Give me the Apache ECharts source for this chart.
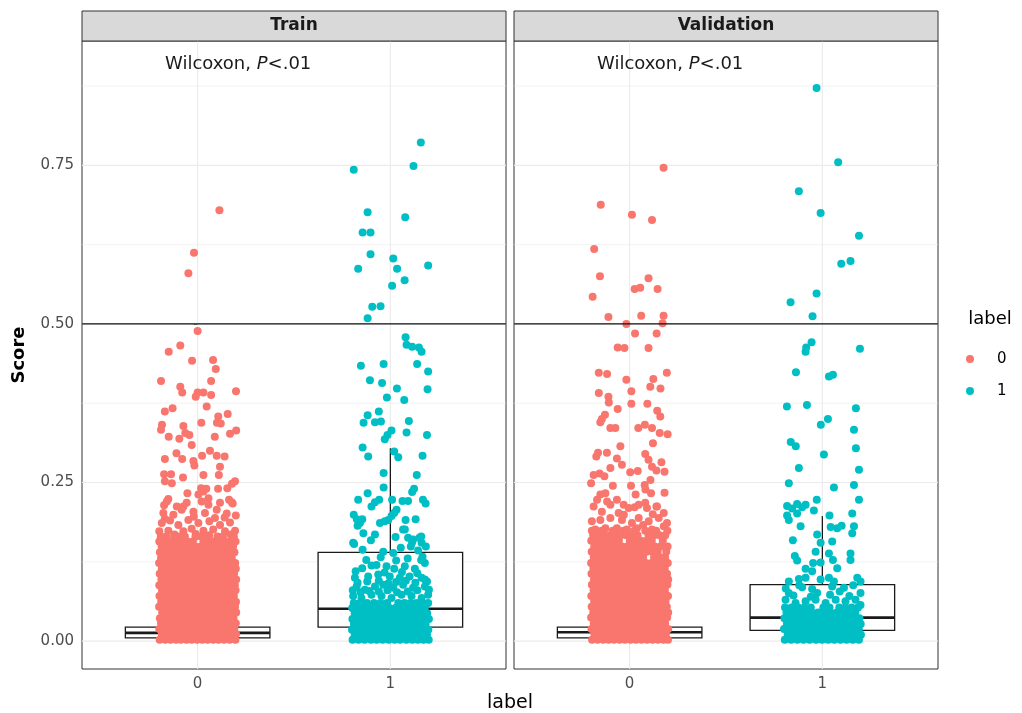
<!DOCTYPE html>
<html><head><meta charset="utf-8">
<script src="https://cdn.jsdelivr.net/npm/echarts@6/dist/echarts.min.js"></script>
<style>html,body{margin:0;padding:0;background:#fff}#c{width:1022px;height:713px}</style>
</head><body><div id="c"></div>
<script>
// ---------------- data ----------------
const panels = ['Train', 'Validation'];
const groups = ['0', '1'];
const groupColors = ['#F8766D', '#00BFC4'];
const yTicks = [0, 0.25, 0.5, 0.75];
const yTickLabels = ['0.00', '0.25', '0.50', '0.75'];
const yMinor = [0.125, 0.375, 0.625, 0.875];
const xTicks = [0, 1];
const xTickLabels = ['0', '1'];
const cutoff = 0.5;
const annPrefix = 'Wilcoxon, ';
const annStat = 'P';
const annSuffix = '<.01';
const yTitle = 'Score';
const xTitle = 'label';
const legendTitle = 'label';
// boxes: [group x, lower whisker, q1, median, q3, upper whisker]
const trainBoxes = [[0, 0, 0.005, 0.013, 0.022, 0.046], [1, 0, 0.022, 0.051, 0.140, 0.304]];
const validBoxes = [[0, 0, 0.005, 0.014, 0.022, 0.047], [1, 0, 0.017, 0.037, 0.089, 0.197]];

// points: [jitter offset from group position, score]
const train0Sparse = [[0.113,0.679],[-0.019,0.612],[-0.048,0.580],[0.0,0.489],[-0.09,0.466],[-0.15,0.456],[-0.029,0.442],[0.08,0.443],[0.094,0.429],
[-0.19,0.410],[0.07,0.410],[0.199,0.394],[-0.09,0.401],[-0.08,0.392],[0.0,0.392],[0.03,0.392],[0.07,0.388],[-0.01,0.385],
[-0.17,0.362],[-0.13,0.367],[0.047,0.370],[0.156,0.358],[0.107,0.354],[-0.185,0.341],[-0.074,0.339],[0.019,0.344],[0.10,0.344],[0.12,0.343],
[-0.19,0.333],[-0.064,0.328],[-0.043,0.325],[0.2,0.332],[0.168,0.327],[-0.15,0.322],[-0.095,0.319],[0.089,0.322],[-0.031,0.309],
[-0.11,0.296],[0.064,0.300],[0.023,0.292],[0.099,0.292],[0.14,0.291],[-0.17,0.287],[-0.08,0.287],[-0.022,0.284],[-0.017,0.277],[0.116,0.275],
[0.11,0.262],[-0.174,0.263],[-0.138,0.263],[0.03,0.262],[-0.076,0.258],[-0.17,0.252],[-0.134,0.249],[0.178,0.248],[0.194,0.252],
[0.018,0.241],[0.045,0.240],[0.106,0.240],[0.154,0.241],[-0.053,0.233],[-0.152,0.224],[0.163,0.223],[0.182,0.217],[-0.174,0.214],
[0.03,0.236],[0.004,0.231],[0.056,0.225],[-0.074,0.212],
[-0.16,0.220],[-0.108,0.212],[-0.057,0.218],[0.021,0.220],[0.056,0.215],[0.116,0.218],[0.177,0.219],[-0.178,0.202],[-0.126,0.199],[-0.083,0.207],
[-0.022,0.204],[0.038,0.202],[0.099,0.207],[0.151,0.201],[0.198,0.198],[-0.186,0.186],[-0.143,0.190],[-0.1,0.183],[-0.048,0.191],[0.004,0.186],
[0.061,0.189],[0.116,0.183],[0.168,0.187],[-0.199,0.173],[-0.152,0.174],[-0.074,0.173],[-0.031,0.177],[0.03,0.174],[0.081,0.176],[0.142,0.173],
[0.194,0.174],[-0.12,0.168],[-0.01,0.169],[0.06,0.167],[0.17,0.168],[-0.17,0.193],[0.14,0.195],[-0.02,0.196],[0.09,0.194]];
const train0Dense = [
[0.002,[-0.197,-0.168,-0.141,-0.112,-0.087,-0.058,-0.031,-0.003,0.024,0.052,0.081,0.108,0.137,0.166,0.196]],
[0.011,[-0.186,-0.155,-0.127,-0.099,-0.072,-0.044,-0.017,0.011,0.039,0.067,0.095,0.122,0.151,0.18,0.199]],
[0.019,[-0.199,-0.172,-0.146,-0.115,-0.09,-0.061,-0.035,-0.006,0.021,0.049,0.078,0.104,0.133,0.161,0.19]],
[0.028,[-0.19,-0.16,-0.133,-0.104,-0.077,-0.05,-0.02,0.007,0.034,0.063,0.09,0.118,0.146,0.174,0.198]],
[0.036,[-0.196,-0.175,-0.149,-0.121,-0.093,-0.066,-0.038,-0.01,0.018,0.045,0.074,0.101,0.128,0.157,0.186]],
[0.045,[-0.184,-0.157,-0.128,-0.101,-0.074,-0.046,-0.016,0.013,0.041,0.069,0.096,0.125,0.153,0.181,0.2]],
[0.054,[-0.2,-0.171,-0.143,-0.114,-0.086,-0.06,-0.032,-0.004,0.026,0.053,0.082,0.11,0.139,0.167,0.194]],
[0.062,[-0.189,-0.161,-0.135,-0.107,-0.079,-0.051,-0.023,0.005,0.033,0.061,0.089,0.116,0.144,0.172,0.199]],
[0.071,[-0.198,-0.176,-0.148,-0.12,-0.092,-0.065,-0.037,-0.009,0.019,0.047,0.075,0.103,0.131,0.159,0.188]],
[0.080,[-0.185,-0.158,-0.13,-0.102,-0.073,-0.045,-0.018,0.012,0.04,0.068,0.097,0.124,0.152,0.179,0.197]],
[0.088,[-0.199,-0.17,-0.142,-0.113,-0.085,-0.057,-0.029,-0.002,0.027,0.055,0.083,0.111,0.138,0.166,0.193]],
[0.097,[-0.188,-0.16,-0.132,-0.105,-0.078,-0.049,-0.022,0.006,0.034,0.062,0.091,0.119,0.146,0.175,0.2]],
[0.106,[-0.197,-0.174,-0.147,-0.118,-0.091,-0.063,-0.036,-0.008,0.02,0.048,0.076,0.104,0.132,0.161,0.189]],
[0.114,[-0.186,-0.156,-0.129,-0.1,-0.071,-0.043,-0.015,0.014,0.042,0.07,0.098,0.126,0.154,0.182,0.198]],
[0.123,[-0.2,-0.169,-0.14,-0.111,-0.083,-0.055,-0.027,0.001,0.029,0.057,0.085,0.113,0.14,0.168,0.195]],
[0.131,[-0.19,-0.162,-0.134,-0.106,-0.08,-0.052,-0.024,0.004,0.036,0.064,0.093,0.121,0.149,0.177]],
[0.140,[-0.196,-0.173,-0.145,-0.117,-0.089,-0.061,-0.033,-0.005,0.023,0.051,0.079,0.107,0.135,0.163,0.191]],
[0.149,[-0.187,-0.158,-0.126,-0.098,-0.07,-0.041,-0.013,0.016,0.044,0.072,0.1,0.128,0.156,0.184]],
[0.157,[-0.199,-0.167,-0.139,-0.109,-0.082,-0.053,-0.025,0.03,0.059,0.087,0.115,0.143,0.171,0.197]],
[0.165,[-0.191,-0.163,-0.122,-0.094,-0.066,-0.011,0.018,0.046,0.103,0.131,0.188]]];

const train1Sparse = [[0.158,0.786],[-0.19,0.743],[0.12,0.749],[-0.118,0.676],[0.077,0.668],[-0.144,0.644],[-0.103,0.644],[-0.103,0.610],[0.015,0.603],
[-0.167,0.587],[0.035,0.587],[0.196,0.592],[0.074,0.569],[0.009,0.560],[-0.094,0.527],[-0.051,0.528],[-0.118,0.509],
[0.079,0.479],[0.084,0.467],[0.113,0.464],[0.148,0.463],[0.162,0.456],
[-0.153,0.434],[-0.035,0.437],[0.139,0.437],[0.196,0.425],[-0.106,0.411],[-0.043,0.407],[0.034,0.398],[0.193,0.397],[-0.018,0.384],[0.072,0.380],
[-0.06,0.362],[-0.118,0.356],[-0.139,0.344],[-0.08,0.345],[-0.049,0.346],[0.096,0.347],[0.084,0.329],[0.006,0.332],[0.19,0.325],[-0.015,0.325],[-0.029,0.318],
[-0.144,0.305],[-0.115,0.291],[0.02,0.299],[0.041,0.290],[0.167,0.292],[-0.035,0.265],[0.137,0.262],[-0.035,0.242],[-0.118,0.233],[0.123,0.240],[0.113,0.235],
[-0.167,0.223],[-0.058,0.223],[-0.08,0.219],[-0.098,0.212],[0.009,0.223],[0.063,0.221],[0.092,0.221],[0.169,0.223],[0.183,0.217],[0.032,0.207],[0.02,0.202],
[-0.19,0.199],[-0.174,0.192],[-0.158,0.186],[-0.17,0.182],[-0.146,0.192],[-0.054,0.186],[-0.029,0.189],[-0.011,0.191],[0.006,0.197],[0.079,0.191],[0.131,0.192],[0.075,0.176],
[-0.08,0.168],[-0.101,0.159],[0.027,0.164],[-0.188,0.153],[-0.144,0.144],[0.092,0.163],[0.113,0.156],[0.151,0.163],[0.162,0.155],[0.184,0.149],[0.106,0.149],[0.054,0.147],
[-0.037,0.141],[0.015,0.139],[0.144,0.143],[0.167,0.133],[-0.146,0.115],[-0.098,0.119],[-0.072,0.120],[-0.02,0.118],[0.02,0.114],[0.075,0.118],[0.127,0.114],
[-0.193,0.155],[-0.14,0.17],[0.066,0.176],[0.118,0.16],[0.16,0.165],[0.16,0.128],[0.179,0.123],[0.179,0.097],
[-0.184,0.1],[-0.115,0.102],[-0.063,0.105],[-0.003,0.102],[0.049,0.1],[0.1,0.102],[0.162,0.1],[-0.175,0.086],[-0.132,0.081],[-0.08,0.086],[-0.037,0.089],
[0.015,0.084],[0.066,0.089],[0.118,0.084],[0.179,0.086],[-0.193,0.071],[-0.15,0.068],[-0.098,0.073],[-0.046,0.071],[0.006,0.068],[0.058,0.073],[0.11,0.071],[0.162,0.068],[0.196,0.073],
[-0.17,0.092],[-0.12,0.094],[-0.06,0.095],[-0.01,0.091],[0.03,0.093],[0.08,0.095],[0.13,0.092],[0.19,0.094],[-0.195,0.08],[-0.155,0.077],[-0.11,0.079],
[-0.06,0.078],[-0.015,0.08],[0.035,0.077],[0.09,0.078],[0.14,0.08],[0.2,0.081],[-0.18,0.11],[-0.03,0.108],[0.06,0.109],[0.14,0.107],[-0.125,0.128],
[-0.05,0.132],[0.03,0.127],[0.09,0.13]];
const train1Dense = [
[0.002,[-0.196,-0.165,-0.134,-0.1,-0.071,-0.04,-0.009,0.022,0.05,0.083,0.114,0.143,0.172,0.199]],
[0.010,[-0.185,-0.151,-0.119,-0.088,-0.055,-0.026,0.008,0.037,0.068,0.099,0.128,0.158,0.19]],
[0.018,[-0.199,-0.17,-0.138,-0.107,-0.077,-0.047,-0.015,0.016,0.045,0.076,0.107,0.137,0.167,0.197]],
[0.027,[-0.189,-0.155,-0.124,-0.092,-0.062,-0.031,0.001,0.03,0.061,0.091,0.121,0.152,0.183]],
[0.035,[-0.197,-0.166,-0.136,-0.104,-0.075,-0.043,-0.012,0.019,0.049,0.08,0.11,0.141,0.171,0.2]],
[0.044,[-0.185,-0.149,-0.118,-0.087,-0.057,-0.024,0.007,0.038,0.068,0.099,0.129,0.16,0.191]],
[0.052,[-0.198,-0.168,-0.139,-0.106,-0.07,-0.038,-0.005,0.026,0.057,0.089,0.118,0.148,0.178]],
[0.060,[-0.19,-0.157,-0.121,-0.085,-0.051,-0.017,0.041,0.073,0.104,0.135,0.166,0.196]]];

const valid0Sparse = [[0.176,0.746],[-0.15,0.688],[0.012,0.672],[0.116,0.664],[-0.184,0.618],[-0.154,0.575],[0.098,0.572],[0.026,0.555],[0.055,0.557],[0.145,0.555],
[-0.192,0.543],[-0.11,0.511],[0.06,0.513],[0.176,0.513],[-0.017,0.500],[0.171,0.501],[0.028,0.485],[0.14,0.485],[-0.062,0.463],[-0.027,0.462],[0.098,0.462],
[-0.16,0.423],[-0.117,0.421],[0.193,0.423],[-0.017,0.412],[0.123,0.413],[0.107,0.401],[0.16,0.398],[0.009,0.394],[-0.16,0.391],
[-0.11,0.385],[-0.108,0.376],[0.009,0.374],[0.092,0.374],[-0.062,0.366],[0.143,0.363],[0.159,0.354],[-0.128,0.357],[-0.144,0.350],[-0.152,0.345],
[-0.10,0.336],[-0.074,0.336],[0.045,0.336],[0.079,0.341],[0.116,0.336],[0.156,0.328],[0.197,0.326],[0.121,0.312],[-0.048,0.307],[-0.164,0.297],
[-0.173,0.291],[-0.118,0.297],[-0.066,0.288],[-0.04,0.278],[0.081,0.295],[0.098,0.286],[0.116,0.275],[0.139,0.269],[0.181,0.267],[0.165,0.282],
[-0.1,0.273],[0.003,0.266],[0.042,0.268],[-0.187,0.262],[-0.156,0.264],[-0.131,0.26],[-0.2,0.249],[0.108,0.254],[0.078,0.246],[0.082,0.239],
[-0.087,0.245],[0.007,0.245],[0.181,0.234],[0.111,0.233],[0.031,0.231],[0.139,0.212],[-0.152,0.231],[-0.126,0.233],[-0.169,0.223],[-0.117,0.22],
[-0.066,0.223],[-0.031,0.215],[0.026,0.211],[0.081,0.218],
[-0.187,0.212],[-0.144,0.204],[-0.1,0.215],[-0.057,0.202],[-0.005,0.21],[0.047,0.215],[0.09,0.21],[0.142,0.212],[0.177,0.202],[-0.196,0.189],
[-0.152,0.191],[-0.1,0.194],[-0.04,0.191],[0.012,0.186],[0.047,0.194],[0.099,0.189],[0.151,0.194],[0.194,0.186],[-0.178,0.176],[-0.126,0.178],
[-0.066,0.178],[-0.014,0.176],[0.038,0.178],[0.116,0.176],[0.177,0.181],[0.07,0.183],[-0.03,0.199],[0.12,0.2]];
const valid0Dense = [
[0.002,[-0.195,-0.166,-0.137,-0.109,-0.081,-0.052,-0.024,0.005,0.033,0.062,0.09,0.119,0.147,0.176,0.199]],
[0.011,[-0.183,-0.154,-0.125,-0.097,-0.068,-0.04,-0.011,0.018,0.046,0.075,0.103,0.132,0.16,0.188]],
[0.019,[-0.198,-0.17,-0.141,-0.113,-0.084,-0.056,-0.027,0.001,0.03,0.058,0.087,0.115,0.144,0.172,0.2]],
[0.028,[-0.186,-0.158,-0.129,-0.101,-0.072,-0.044,-0.015,0.013,0.042,0.07,0.099,0.127,0.156,0.184]],
[0.037,[-0.2,-0.173,-0.145,-0.116,-0.088,-0.059,-0.031,-0.002,0.026,0.055,0.083,0.112,0.14,0.169,0.195]],
[0.045,[-0.189,-0.161,-0.132,-0.104,-0.075,-0.047,-0.018,0.01,0.039,0.067,0.096,0.124,0.153,0.181,0.2]],
[0.054,[-0.197,-0.168,-0.14,-0.111,-0.083,-0.054,-0.026,0.003,0.031,0.06,0.088,0.117,0.145,0.174,0.193]],
[0.063,[-0.184,-0.156,-0.127,-0.099,-0.07,-0.042,-0.013,0.015,0.044,0.072,0.101,0.129,0.158,0.186]],
[0.071,[-0.199,-0.171,-0.142,-0.114,-0.085,-0.057,-0.028,0,0.029,0.057,0.086,0.114,0.143,0.171,0.199]],
[0.080,[-0.187,-0.159,-0.13,-0.102,-0.073,-0.045,-0.016,0.012,0.041,0.069,0.098,0.126,0.155,0.183]],
[0.089,[-0.196,-0.174,-0.146,-0.117,-0.089,-0.06,-0.032,-0.003,0.025,0.054,0.082,0.111,0.139,0.168,0.196]],
[0.097,[-0.185,-0.157,-0.128,-0.1,-0.071,-0.043,-0.014,0.014,0.043,0.071,0.1,0.128,0.157,0.185,0.2]],
[0.106,[-0.198,-0.169,-0.141,-0.112,-0.084,-0.055,-0.027,0.002,0.03,0.059,0.087,0.116,0.144,0.173,0.194]],
[0.115,[-0.188,-0.16,-0.131,-0.103,-0.074,-0.046,-0.017,0.011,0.04,0.068,0.097,0.125,0.154,0.182]],
[0.123,[-0.2,-0.172,-0.143,-0.115,-0.086,-0.058,-0.029,-0.001,0.028,0.056,0.085,0.113,0.142,0.17,0.198]],
[0.132,[-0.186,-0.158,-0.129,-0.101,-0.072,-0.044,-0.015,0.013,0.042,0.07,0.127,0.156,0.184]],
[0.141,[-0.197,-0.168,-0.14,-0.111,-0.083,-0.054,-0.026,0.003,0.031,0.06,0.088,0.117,0.145,0.19]],
[0.149,[-0.184,-0.155,-0.127,-0.098,-0.07,-0.041,-0.013,0.016,0.044,0.073,0.101,0.13,0.16,0.197]],
[0.158,[-0.199,-0.17,-0.142,-0.113,-0.085,-0.056,0.001,0.03,0.058,0.087,0.115,0.172]],
[0.167,[-0.189,-0.16,-0.131,-0.103,-0.074,-0.046,-0.017,0.012,0.041,0.098,0.126,0.155,0.185]],
[0.174,[-0.196,-0.145,-0.088,-0.032,0.024,0.081,0.138,0.196]]];

const valid1Sparse = [[-0.03,0.872],[0.082,0.755],[-0.122,0.709],[-0.009,0.675],[0.19,0.639],[0.098,0.595],[0.146,0.599],[-0.03,0.548],[-0.165,0.534],
[-0.051,0.512],[-0.056,0.471],[-0.084,0.463],[-0.087,0.456],[0.195,0.461],
[0.034,0.417],[0.055,0.420],[-0.137,0.424],[-0.184,0.370],[-0.08,0.372],[0.174,0.367],[-0.008,0.341],[0.029,0.350],[0.164,0.333],[-0.164,0.314],
[-0.138,0.307],[0.008,0.294],[0.174,0.304],[0.19,0.27],[-0.122,0.273],[0.06,0.242],[0.164,0.246],[-0.174,0.249],[-0.029,0.223],[0.19,0.223],
[-0.183,0.213],[-0.157,0.209],[-0.131,0.216],[-0.105,0.211],[-0.087,0.215],[-0.044,0.206],[-0.183,0.198],[-0.131,0.201],[0.037,0.198],[0.155,0.201],
[-0.174,0.191],[-0.113,0.181],[0.043,0.18],[0.077,0.178],[0.1,0.182],[0.164,0.181],[0.155,0.17],[-0.027,0.168],[-0.153,0.159],[0.051,0.157],
[-0.009,0.155],[-0.035,0.141],[-0.143,0.134],[-0.131,0.127],[0.034,0.138],[0.055,0.128],[0.146,0.138],[0.146,0.128],[-0.048,0.123],[-0.009,0.124],
[-0.087,0.114],[-0.053,0.11],[0.077,0.115],[-0.174,0.094],[-0.122,0.098],[-0.087,0.1],[-0.009,0.097],[0.034,0.1],[0.06,0.094],[0.181,0.1],[0.198,0.094],
[-0.174,0.076],[-0.105,0.085],[-0.053,0.082],[-0.027,0.076],[0.051,0.086],[0.112,0.084],[0.198,0.076],[-0.191,0.065],[-0.139,0.06],[-0.087,0.063],
[-0.035,0.065],[0.017,0.06],[0.069,0.065],[0.12,0.063],[0.172,0.065],[0.198,0.057],
[-0.15,0.072],[-0.06,0.07],[0.04,0.073],[0.14,0.071],[-0.19,0.083],[0.09,0.078],[-0.12,0.088],[0.16,0.088]];
const valid1Dense = [
[0.002,[-0.195,-0.162,-0.13,-0.098,-0.066,-0.033,-0.002,0.03,0.062,0.094,0.126,0.158,0.19]],
[0.010,[-0.18,-0.147,-0.115,-0.082,-0.05,-0.017,0.015,0.047,0.079,0.111,0.143,0.175,0.2]],
[0.019,[-0.199,-0.166,-0.133,-0.101,-0.069,-0.036,-0.004,0.028,0.06,0.092,0.124,0.157,0.189]],
[0.027,[-0.184,-0.151,-0.119,-0.086,-0.054,-0.021,0.011,0.043,0.076,0.108,0.14,0.172,0.199]],
[0.036,[-0.197,-0.164,-0.132,-0.1,-0.067,-0.035,-0.003,0.03,0.062,0.094,0.127,0.16,0.192]],
[0.045,[-0.186,-0.152,-0.12,-0.087,-0.055,-0.022,0.01,0.042,0.075,0.107,0.139,0.171]],
[0.053,[-0.194,-0.16,-0.126,-0.094,-0.06,0.005,0.037,0.088,0.12,0.152,0.185]]];

// ---------------- build ----------------
const FONT = 'DejaVu Sans';
const X_MIN = -0.6, X_MAX = 1.6, Y_MIN = -0.044, Y_MAX = 0.946;
function toPoints(sparse, dense, gx) {
  const out = sparse.map(p => [gx + p[0], p[1]]);
  dense.forEach(r => r[1].forEach(j => out.push([gx + j, r[0]])));
  return out;
}
const panelPoints = [
  [toPoints(train0Sparse, train0Dense, 0), toPoints(train1Sparse, train1Dense, 1)],
  [toPoints(valid0Sparse, valid0Dense, 0), toPoints(valid1Sparse, valid1Dense, 1)]
];
const panelBoxes = [trainBoxes, validBoxes];
const gridData = [];
yTicks.forEach(v => gridData.push([0, v, 0]));
yMinor.forEach(v => gridData.push([0, v, 1]));
xTicks.forEach(v => gridData.push([1, v, 0]));

const gridBoxes = [{left: 82, top: 41, width: 424, height: 628}, {left: 514, top: 41, width: 424, height: 628}];

function gridRender(params, api) {
  const cs = params.coordSys;
  const kind = api.value(0), v = api.value(1), minor = api.value(2);
  const style = {stroke: '#EBEBEB', lineWidth: minor ? 0.6 : 1.1};
  if (kind === 0) {
    const y = api.coord([0, v])[1];
    return {type: 'line', shape: {x1: cs.x, y1: y, x2: cs.x + cs.width, y2: y}, style};
  }
  const x = api.coord([v, 0])[0];
  return {type: 'line', shape: {x1: x, y1: cs.y, x2: x, y2: cs.y + cs.height}, style};
}
function boxRender(params, api) {
  const gx = api.value(0);
  const lo = api.coord([gx, api.value(1)]), q1 = api.coord([gx - 0.375, api.value(2)]);
  const med = api.value(3), q3 = api.coord([gx + 0.375, api.value(4)]), hi = api.coord([gx, api.value(5)]);
  const mL = api.coord([gx - 0.375, med]), mR = api.coord([gx + 0.375, med]);
  const st = {stroke: '#1a1a1a', lineWidth: 1.3, fill: null};
  return {type: 'group', children: [
    {type: 'line', shape: {x1: lo[0], y1: lo[1], x2: lo[0], y2: q1[1]}, style: st},
    {type: 'line', shape: {x1: hi[0], y1: hi[1], x2: hi[0], y2: q3[1]}, style: st},
    {type: 'rect', shape: {x: q1[0], y: q3[1], width: q3[0] - q1[0], height: q1[1] - q3[1]}, style: {stroke: '#1a1a1a', lineWidth: 1.3, fill: '#fff'}},
    {type: 'line', shape: {x1: mL[0], y1: mL[1], x2: mR[0], y2: mR[1]}, style: {stroke: '#1a1a1a', lineWidth: 2.6}}
  ]};
}
function hlineRender(params, api) {
  const cs = params.coordSys;
  const y = api.coord([0, api.value(0)])[1];
  return {type: 'line', shape: {x1: cs.x, y1: y, x2: cs.x + cs.width, y2: y}, style: {stroke: '#111', lineWidth: 1.3}};
}

const xAxes = [], yAxes = [], series = [], graphics = [];
panels.forEach((name, pi) => {
  xAxes.push({gridIndex: pi, type: 'value', min: X_MIN, max: X_MAX,
    axisLine: {show: false}, splitLine: {show: false},
    axisTick: {show: true, customValues: xTicks, length: 4, lineStyle: {color: '#333', width: 1}},
    axisLabel: {customValues: xTicks, formatter: v => xTickLabels[xTicks.indexOf(v)], color: '#4D4D4D', fontSize: 15, fontFamily: FONT, margin: 8}});
  yAxes.push({gridIndex: pi, type: 'value', min: Y_MIN, max: Y_MAX,
    axisLine: {show: false}, splitLine: {show: false},
    axisTick: {show: pi === 0, customValues: yTicks, length: 4, lineStyle: {color: '#333', width: 1}},
    axisLabel: {show: pi === 0, customValues: yTicks, formatter: v => { const i = yTicks.indexOf(v); return i >= 0 ? yTickLabels[i] : v.toFixed(2); },
      color: '#4D4D4D', fontSize: 15, fontFamily: FONT, margin: 8}});
  series.push({type: 'custom', name: 'grid' + pi, xAxisIndex: pi, yAxisIndex: pi, z: 1, silent: true, renderItem: gridRender, data: gridData});
  series.push({type: 'custom', name: 'box' + pi, xAxisIndex: pi, yAxisIndex: pi, z: 2, silent: true, renderItem: boxRender, data: panelBoxes[pi]});
  groups.forEach((g, gi) => {
    series.push({type: 'scatter', name: g, xAxisIndex: pi, yAxisIndex: pi, z: 3, symbolSize: 8, silent: true,
      itemStyle: {color: groupColors[gi], opacity: 1}, data: panelPoints[pi][gi], animation: false});
  });
  series.push({type: 'custom', name: 'cut' + pi, xAxisIndex: pi, yAxisIndex: pi, z: 4, silent: true, renderItem: hlineRender, data: [[cutoff]]});
  const gb = gridBoxes[pi];
  graphics.push({type: 'rect', z: 10, shape: {x: gb.left, y: 11, width: gb.width, height: 30}, style: {fill: '#D9D9D9', stroke: '#333', lineWidth: 1}});
  graphics.push({type: 'text', z: 11, x: gb.left + gb.width / 2, y: 26, style: {text: name, font: 'bold 17px "' + FONT + '"', fill: '#1A1A1A', align: 'center', verticalAlign: 'middle'}});
  graphics.push({type: 'text', z: 11, x: gb.left + 83, y: 64, style: {
    text: '{n|' + annPrefix + '}{i|' + annStat + '}{n|' + annSuffix + '}',
    rich: {n: {font: '18px "' + FONT + '"', fill: '#1A1A1A'}, i: {font: 'italic 18px "' + FONT + '"', fill: '#1A1A1A'}},
    align: 'left', verticalAlign: 'middle'}});
});
graphics.push({type: 'text', x: 19, y: 355, rotation: Math.PI / 2, style: {text: yTitle, font: 'bold 18px "' + FONT + '"', fill: '#000', align: 'center', verticalAlign: 'middle'}});
graphics.push({type: 'text', x: 510, y: 703, style: {text: xTitle, font: '19px "' + FONT + '"', fill: '#000', align: 'center', verticalAlign: 'middle'}});
graphics.push({type: 'text', x: 990, y: 319, style: {text: legendTitle, font: '18px "' + FONT + '"', fill: '#000', align: 'center', verticalAlign: 'middle'}});

const option = {
  animation: false,
  backgroundColor: '#fff',
  grid: gridBoxes.map(g => Object.assign({show: true, borderColor: '#333', borderWidth: 1, backgroundColor: '#fff', containLabel: false}, g)),
  xAxis: xAxes, yAxis: yAxes, series,
  legend: {data: groups, orient: 'vertical', left: 961, top: 346, icon: 'circle', itemWidth: 44, itemHeight: 8, itemGap: 16,
    textStyle: {fontSize: 15, lineHeight: 16, color: '#000', fontFamily: FONT}, selectedMode: false},
  graphic: graphics
};
const chart = echarts.init(document.getElementById('c'));
chart.setOption(option);
</script></body></html>
